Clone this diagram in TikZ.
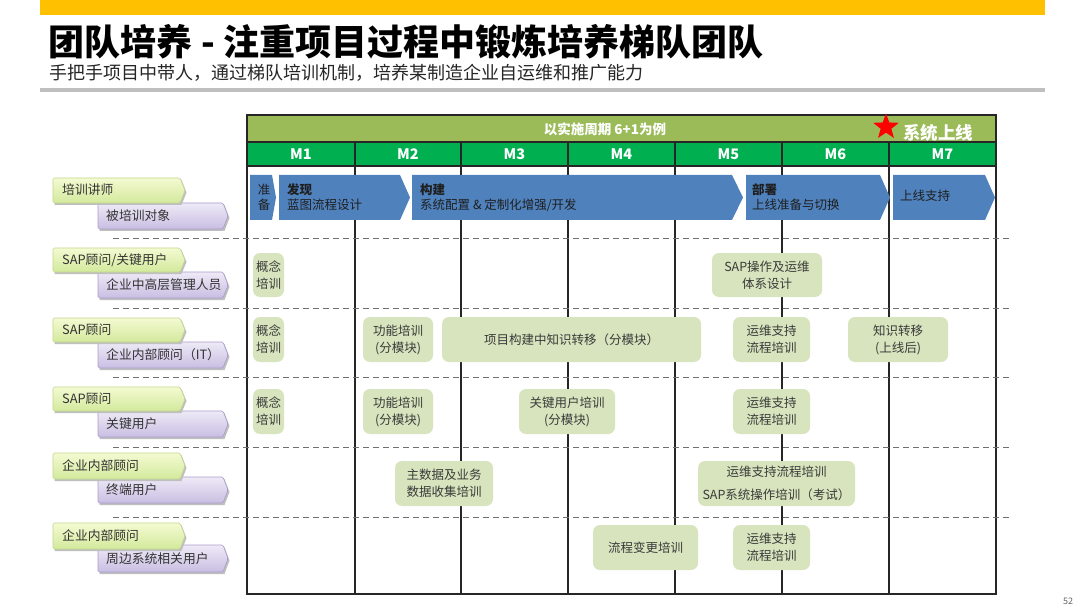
\documentclass[tikz,border=0pt]{standalone}
\usepackage{fontspec}
\setmainfont{Noto Sans CJK SC}
\usetikzlibrary{shapes.geometric}
\definecolor{topyellow}{HTML}{FFC000}
\definecolor{rulegray}{HTML}{BFBFBF}
\definecolor{headolive}{HTML}{9BBB59}
\definecolor{monthgreen}{HTML}{00B050}
\definecolor{chevblue}{HTML}{4F81BD}
\definecolor{boxg}{HTML}{D7E4BD}
\definecolor{boxt}{HTML}{3A3A3A}
\definecolor{tagGtop}{HTML}{F4FAD2}
\definecolor{tagGbot}{HTML}{D3E99C}
\definecolor{tagGline}{HTML}{C2D78C}
\definecolor{tagPtop}{HTML}{EEEAF7}
\definecolor{tagPbot}{HTML}{C9BEE2}
\definecolor{tagPline}{HTML}{A89CC9}
\definecolor{dashgray}{HTML}{707070}
\tikzset{
  tbox/.style={rounded corners=7pt, fill=boxg, text=boxt, align=center, inner sep=0pt,
    font=\fontsize{12.5}{17}\selectfont},
  chevtext/.style={anchor=west, align=left, text=black!88, inner sep=0pt,
    font=\fontsize{12.5}{15}\selectfont},
  tagtext/.style={anchor=west, inner sep=0pt, text=black!80, font=\fontsize{12.8}{16}\selectfont},
  monthlabel/.style={text=white, font=\bfseries\fontsize{14.5}{16}\selectfont},
  gridline/.style={black!85, line width=1.3pt},
  rowsep/.style={dashgray, line width=0.9pt, dash pattern=on 6pt off 4pt},
}
% chevron: x1, x2, y1, y2, tip depth
\def\mychev#1#2#3#4#5{%
  \fill[chevblue] (#1,#3) -- ({#2-#5},#3) -- (#2,{(#3+#4)/2}) -- ({#2-#5},#4) -- (#1,#4) -- cycle;}
% tag: x1,x2,y1,y2,top,bottom,line
\def\mytag#1#2#3#4#5#6#7{%
  \fill[black!25] ({#1+1.5},{#3+2}) -- ({#2-5+1.5},{#3+2}) -- ({#2+1.5},{(#3+#4)/2+2}) -- ({#2-5+1.5},{#4+2}) -- ({#1+1.5},{#4+2}) -- cycle;
  \shade[top color=#5, bottom color=#6, draw=#7, line width=0.6pt, rounded corners=1.5pt]
   (#1,#3) -- ({#2-5},#3) -- (#2,{(#3+#4)/2}) -- ({#2-5},#4) -- (#1,#4) -- cycle;}
\begin{document}
\begin{tikzpicture}[x=1pt,y=-1pt]
\useasboundingbox (0,0) rectangle (1080,607);
\fill[white] (0,0) rectangle (1080,607);
% top bar and titles
\fill[topyellow] (40,0) rectangle (1045,15);
\node[anchor=west, inner sep=0pt, font=\bfseries\fontsize{36}{38}\selectfont] (title) at (48,42) {团队培养\hspace{9pt}-\hspace{9pt}注重项目过程中锻炼培养梯队团队};
\node[anchor=west, inner sep=0pt, text=black!85, font=\fontsize{18}{20}\selectfont] (subtitle) at (49,73) {手把手项目中带人，通过梯队培训机制，培养某制造企业自运维和推广能力};
\fill[rulegray] (40,88.5) rectangle (1045,92);
% header rows
\fill[headolive] (247,115) rectangle (996,142);
\fill[monthgreen] (247,142) rectangle (996,166);
\node[text=white, font=\bfseries\fontsize{13.5}{16}\selectfont] (period) at (605,129) {以实施周期 6+1为例};
\foreach \i/\cx in {1/301,2/408,3/514.5,4/621.5,5/728.5,6/835.5,7/942.5}{
  \node[monthlabel] (m\i) at (\cx,154.5) {M\i};
}
% grid lines
\foreach \x in {355,461,568,675,782,889}{
  \draw[gridline] (\x,142) -- (\x,594);
}
\draw[gridline] (247,142) -- (996,142);
\draw[gridline] (247,166) -- (996,166);
\draw[gridline] (247,115) rectangle (996,594);
% dashed row separators
\foreach \y in {238,308,377,447,517}{
  \draw[rowsep] (113,\y) -- (1010,\y);
}
% star and go-live label
\node[star, star points=5, star point ratio=2.4, fill=red, inner sep=0pt, minimum size=27pt] (star) at (886,127) {};
\node[text=white, font=\bfseries\fontsize{17.5}{19}\selectfont] (golive) at (938,133) {系统上线};
% phase chevrons
\mychev{250}{276}{175}{220}{4}
\mychev{279}{410}{175}{220}{10}
\mychev{412}{743}{175}{220}{11}
\mychev{746}{890}{175}{220}{10}
\mychev{893}{995}{175}{220}{10}
\node[chevtext, align=center, anchor=center] (p0) at (264,197.5) {准\\备};
\node[chevtext] (p1) at (287,197.5) {\textbf{发现}\\蓝图流程设计};
\node[chevtext] (p2) at (420,197.5) {\textbf{构建}\\系统配置 \& 定制化增强/开发};
\node[chevtext] (p3) at (752,197.5) {\textbf{部署}\\上线准备与切换};
\node[chevtext] (p4) at (900,196) {上线支持};
% left tags
\mytag{98}{228}{203}{229}{tagPtop}{tagPbot}{tagPline}
\mytag{53}{185}{178}{203}{tagGtop}{tagGbot}{tagGline}
\node[tagtext] (g1) at (62,190) {培训讲师};
\node[tagtext] (u1) at (106,216) {被培训对象};
\mytag{98}{228}{272}{298}{tagPtop}{tagPbot}{tagPline}
\mytag{53}{185}{248}{272}{tagGtop}{tagGbot}{tagGline}
\node[tagtext] (g2) at (62,260) {SAP顾问/关键用户};
\node[tagtext] (u2) at (106,285) {企业中高层管理人员};
\mytag{98}{228}{342}{368}{tagPtop}{tagPbot}{tagPline}
\mytag{53}{185}{318}{342}{tagGtop}{tagGbot}{tagGline}
\node[tagtext] (g3) at (62,330) {SAP顾问};
\node[tagtext] (u3) at (106,355) {企业内部顾问（IT）};
\mytag{98}{228}{411}{437}{tagPtop}{tagPbot}{tagPline}
\mytag{53}{185}{387}{411}{tagGtop}{tagGbot}{tagGline}
\node[tagtext] (g4) at (62,399) {SAP顾问};
\node[tagtext] (u4) at (106,424) {关键用户};
\mytag{98}{228}{477}{503}{tagPtop}{tagPbot}{tagPline}
\mytag{53}{185}{453}{479}{tagGtop}{tagGbot}{tagGline}
\node[tagtext] (g5) at (62,466) {企业内部顾问};
\node[tagtext] (u5) at (106,490) {终端用户};
\mytag{98}{228}{545}{572}{tagPtop}{tagPbot}{tagPline}
\mytag{53}{185}{523}{549}{tagGtop}{tagGbot}{tagGline}
\node[tagtext] (g6) at (62,536) {企业内部顾问};
\node[tagtext] (u6) at (106,558.5) {周边系统相关用户};
% training boxes
\node[tbox, minimum width=31pt, minimum height=44pt] (b21) at (268.5,275) {概念\\培训};
\node[tbox, minimum width=110pt, minimum height=44pt] (b22) at (767,275) {SAP操作及运维\\体系设计};
\node[tbox, minimum width=31pt, minimum height=45pt] (b31) at (268.5,339.5) {概念\\培训};
\node[tbox, minimum width=70pt, minimum height=45pt] (b32) at (398,339.5) {功能培训\\(分模块)};
\node[tbox, minimum width=259pt, minimum height=45pt] (b33) at (571.5,339.5) {项目构建中知识转移（分模块）};
\node[tbox, minimum width=77pt, minimum height=45pt] (b34) at (771.5,339.5) {运维支持\\流程培训};
\node[tbox, minimum width=100pt, minimum height=45pt] (b35) at (898,339.5) {知识转移\\(上线后)};
\node[tbox, minimum width=31pt, minimum height=45pt] (b41) at (268.5,411.5) {概念\\培训};
\node[tbox, minimum width=70pt, minimum height=45pt] (b42) at (398,411.5) {功能培训\\(分模块)};
\node[tbox, minimum width=96pt, minimum height=45pt] (b43) at (567,411.5) {关键用户培训\\(分模块)};
\node[tbox, minimum width=77pt, minimum height=45pt] (b44) at (771.5,411.5) {运维支持\\流程培训};
\node[tbox, minimum width=98pt, minimum height=45pt] (b51) at (444,483.5) {主数据及业务\\数据收集培训};
\node[tbox, minimum width=157pt, minimum height=45pt, font=\fontsize{12.5}{23}\selectfont] (b52) at (776.5,483.5) {运维支持流程培训\\SAP系统操作培训（考试）};
\node[tbox, minimum width=105pt, minimum height=45pt] (b61) at (645.5,547.5) {流程变更培训};
\node[tbox, minimum width=77pt, minimum height=45pt] (b62) at (771.5,547.5) {运维支持\\流程培训};
% page number
\node[text=black!60, font=\fontsize{9}{10}\selectfont] (pagenum) at (1068,601) {52};
\end{tikzpicture}
\end{document}
